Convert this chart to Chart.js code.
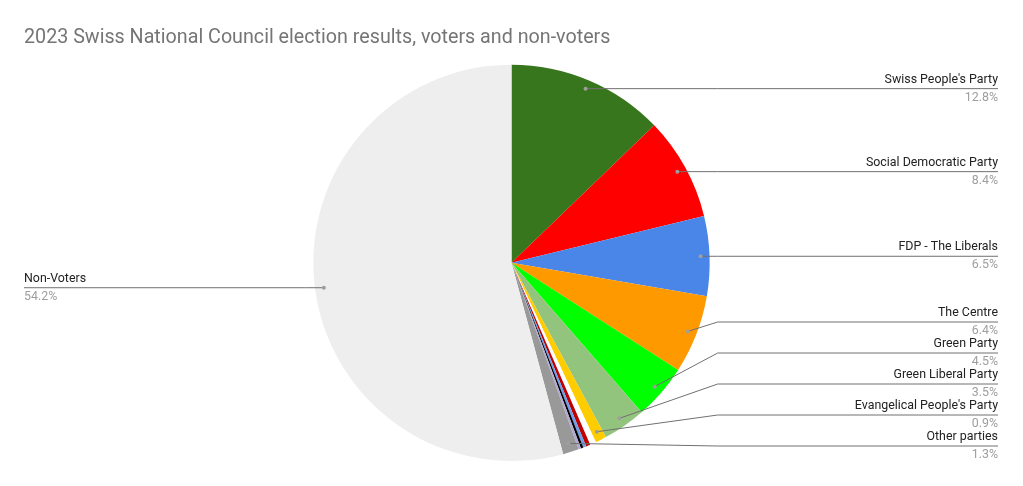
<!DOCTYPE html>
<html>
<head>
<meta charset="utf-8">
<script src="https://cdn.jsdelivr.net/npm/chart.js@4/dist/chart.umd.min.js"></script>
<style>
  html, body { margin: 0; padding: 0; background: #fff; }
  #wrap { width: 1023px; height: 486px; position: relative; }
</style>
</head>
<body>
<div id="wrap"><canvas id="voteChart"></canvas></div>
<script>
// Slice labels (the five tiny slices carry no label in the source picture)
const parties = [
    "Swiss People's Party",
    'Social Democratic Party',
    'FDP - The Liberals',
    'The Centre',
    'Green Party',
    'Green Liberal Party',
    "Evangelical People's Party",
    'Small party 1',
    'Small party 2',
    'Small party 3',
    'Small party 4',
    'Small party 5',
    'Other parties',
    'Non-Voters'
];

// Share of the whole electorate, %
const shares = [12.8, 8.4, 6.5, 6.4, 4.5, 3.5, 0.9, 0.5, 0.35, 0.25, 0.2, 0.2, 1.3, 54.2];

const sliceColors = [
    '#38761d', '#ff0000', '#4a86e8', '#ff9900', '#00ff00', '#93c47d', '#ffcc00',
    '#ffffff', '#c00000', '#6d9eeb', '#000000', '#b4a7d6', '#999999', '#eeeeee'
];

// Slices below this share get no callout
const labelMin = 0.8;

// Callout labels drawn next to the pie, like the sheets chart
const calloutPlugin = {
    id: 'callouts',
    afterDatasetsDraw(chart) {
        const ctx = chart.ctx;
        const meta = chart.getDatasetMeta(0);
        const total = shares.reduce((a, b) => a + b, 0);
        const right = [], left = [];

        meta.data.forEach((arc, i) => {
            if (shares[i] < labelMin) return;
            const mid = (arc.startAngle + arc.endAngle) / 2;
            const r = arc.outerRadius * 0.955;
            const item = {
                i: i,
                cx: arc.x,
                R: arc.outerRadius,
                dx: arc.x + Math.cos(mid) * r,
                dy: arc.y + Math.sin(mid) * r
            };
            item.ly = item.dy;
            (Math.cos(mid) >= 0 ? right : left).push(item);
        });

        // push overlapping right-hand labels upward, starting from the bottom
        right.sort((a, b) => a.dy - b.dy);
        const gap = 31;
        const limit = chart.chartArea.bottom - 15;
        let prev = limit + gap;
        for (let k = right.length - 1; k >= 0; k--) {
            let want = right[k].dy;
            if (k === right.length - 1 && want > limit - gap / 2) want = limit;
            right[k].ly = Math.min(want, prev - gap);
            prev = right[k].ly;
        }

        const edgeR = chart.width - 25;
        const edgeL = 24;

        ctx.save();
        const drawOne = (it, side) => {
            const pct = (shares[it.i] / total * 100).toFixed(1) + '%';
            ctx.strokeStyle = '#707070';
            ctx.lineWidth = 1;
            ctx.beginPath();
            ctx.moveTo(it.dx, it.dy);
            if (side === 'right') {
                ctx.lineTo(it.cx + it.R + 8, it.ly);
                ctx.lineTo(edgeR, it.ly);
            } else {
                ctx.lineTo(it.cx - it.R - 8, it.ly);
                ctx.lineTo(edgeL, it.ly);
            }
            ctx.stroke();

            ctx.fillStyle = '#9e9e9e';
            ctx.beginPath();
            ctx.arc(it.dx, it.dy, 2, 0, Math.PI * 2);
            ctx.fill();

            ctx.font = '12.4px Roboto';
            ctx.textAlign = side === 'right' ? 'right' : 'left';
            ctx.textBaseline = 'middle';
            const tx = side === 'right' ? edgeR : edgeL;
            ctx.fillStyle = '#222222';
            ctx.fillText(parties[it.i], tx, it.ly - 9);
            ctx.fillStyle = '#9e9e9e';
            ctx.fillText(pct, tx, it.ly + 9);
        };
        right.forEach(it => drawOne(it, 'right'));
        left.forEach(it => drawOne(it, 'left'));
        ctx.restore();
    }
};

const ctx = document.getElementById('voteChart').getContext('2d');
new Chart(ctx, {
    type: 'pie',
    data: {
        labels: parties,
        datasets: [{
            data: shares,
            backgroundColor: sliceColors,
            borderWidth: 0
        }]
    },
    options: {
        responsive: true,
        maintainAspectRatio: false,
        animation: false,
        layout: {
            padding: { top: 0, bottom: 25, left: 24, right: 24 }
        },
        plugins: {
            legend: { display: false },
            tooltip: { enabled: false },
            title: {
                display: true,
                text: '2023 Swiss National Council election results, voters and non-voters',
                align: 'start',
                color: '#757575',
                font: { family: 'Roboto', size: 19.7, weight: 'normal' },
                padding: { top: 26, bottom: 15 }
            }
        }
    },
    plugins: [calloutPlugin]
});
</script>
</body>
</html>
